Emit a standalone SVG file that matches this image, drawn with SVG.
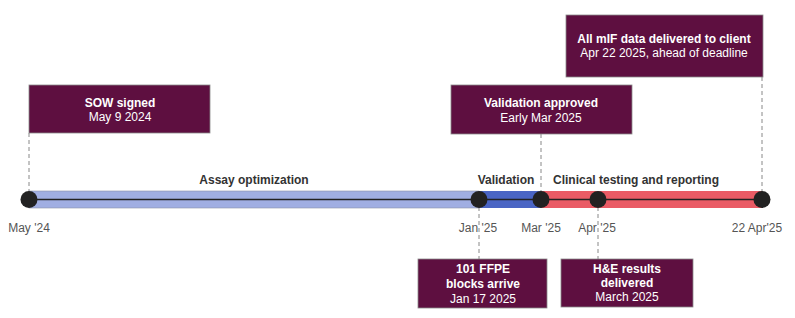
<svg xmlns="http://www.w3.org/2000/svg" width="795" height="318" viewBox="0 0 795 318">
<style>
  .box { fill: #5e0f40; stroke: #8a8a8a; stroke-width: 0.8; }
  .t { font-family: "Liberation Sans", Arial, sans-serif; font-size: 12px; fill: #ffffff; text-anchor: middle; }
  .b { font-weight: bold; }
  .ax { font-family: "Liberation Sans", Arial, sans-serif; font-size: 12px; fill: #555555; text-anchor: middle; }
  .ph { font-family: "Liberation Sans", Arial, sans-serif; font-size: 12px; font-weight: bold; fill: #333333; text-anchor: middle; }
  .dash { stroke: #888888; stroke-width: 1; stroke-dasharray: 4 3; fill: none; }
  .dot { fill: #222222; }
</style>
<rect width="795" height="318" fill="#ffffff"/>
<g id="connectors">
  <line class="dash" x1="29" y1="133" x2="29" y2="200"/>
  <line class="dash" x1="541" y1="134" x2="541" y2="200"/>
  <line class="dash" x1="762" y1="77" x2="762" y2="200"/>
  <line class="dash" x1="479" y1="200" x2="479" y2="259"/>
  <line class="dash" x1="598" y1="200" x2="598" y2="259"/>
</g>
<g id="timeline">
  <rect x="29" y="191" width="450" height="17" fill="#a0aee2" stroke="#8a8fa8" stroke-width="0.6"/>
  <rect x="479" y="191" width="62" height="17" fill="#4a65c4"/>
  <rect x="541" y="191" width="221" height="17" fill="#ea5b65"/>
  <line x1="29" y1="199.5" x2="762" y2="199.5" stroke="#222222" stroke-width="1.3"/>
  <text class="ph" x="254" y="184">Assay optimization</text>
  <text class="ph" x="506" y="184">Validation</text>
  <text class="ph" x="636" y="184">Clinical testing and reporting</text>
  <text class="ax" x="29" y="232">May '24</text>
  <text class="ax" x="478" y="232">Jan '25</text>
  <text class="ax" x="541" y="232">Mar '25</text>
  <text class="ax" x="597" y="232">Apr '25</text>
  <text class="ax" x="757" y="232">22 Apr'25</text>
</g>
<g id="m-sow">
  <circle class="dot" cx="29" cy="199.5" r="8.5"/>
  <rect class="box" x="29" y="85" width="181" height="48"/>
  <text class="t b" x="120" y="107">SOW signed</text>
  <text class="t" x="120" y="121">May 9 2024</text>
</g>
<g id="m-ffpe">
  <circle class="dot" cx="479" cy="199.5" r="8.5"/>
  <rect class="box" x="418" y="259" width="129" height="49"/>
  <text class="t b" x="483" y="273">101 FFPE</text>
  <text class="t b" x="483" y="288">blocks arrive</text>
  <text class="t" x="483" y="302.5">Jan 17 2025</text>
</g>
<g id="m-validation">
  <circle class="dot" cx="541" cy="199.5" r="8.5"/>
  <rect class="box" x="451" y="85" width="181" height="49"/>
  <text class="t b" x="541" y="107">Validation approved</text>
  <text class="t" x="541" y="121.5">Early Mar 2025</text>
</g>
<g id="m-he">
  <circle class="dot" cx="598" cy="199.5" r="8.5"/>
  <rect class="box" x="561" y="259" width="132" height="48"/>
  <text class="t b" x="627" y="273">H&amp;E results</text>
  <text class="t b" x="627" y="287">delivered</text>
  <text class="t" x="627" y="301">March 2025</text>
</g>
<g id="m-mif">
  <circle class="dot" cx="762" cy="199.5" r="8.5"/>
  <rect class="box" x="566" y="15" width="197" height="62"/>
  <text class="t b" x="664" y="42.5">All mIF data delivered to client</text>
  <text class="t" x="664" y="56.5">Apr 22 2025, ahead of deadline</text>
</g>
</svg>
